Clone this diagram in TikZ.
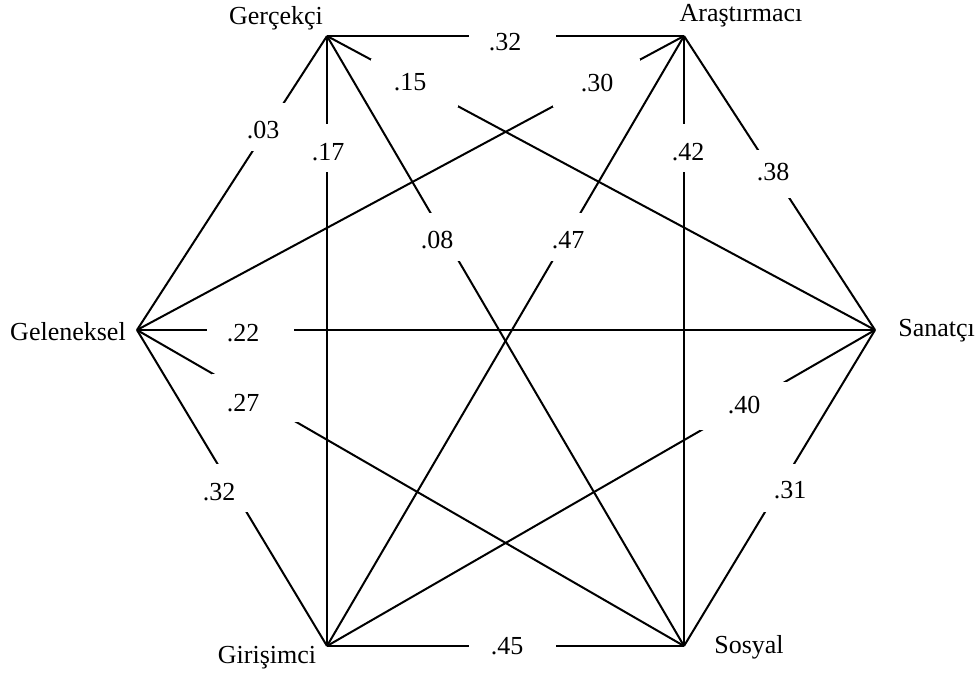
\documentclass[tikz,border=0pt]{standalone}
\usepackage{fontspec}
\setmainfont{Liberation Serif}
\usepackage{tikz}
\usetikzlibrary{positioning}

\begin{document}
\begin{tikzpicture}[x=0.5pt, y=-0.5pt, font=\fontsize{13}{15}\selectfont,
    edge/.style={line width=1pt},
    gap/.style={fill=white, inner sep=0pt, minimum width=43.5pt, minimum height=24pt},
    type/.style={inner sep=0pt}]
  \useasboundingbox (0,0) rectangle (979,678);
  % the six types
  \coordinate (ger) at (327,36);
  \coordinate (ara) at (684,36);
  \coordinate (san) at (875,330);
  \coordinate (sos) at (684,646);
  \coordinate (gir) at (327,646);
  \coordinate (gel) at (137,330);
  \node[type] (gerlab) at (276,18) {Gerçekçi};
  \node[type] (aralab) at (741,16) {Araştırmacı};
  \node[type, anchor=west] (sanlab) at (898,331) {Sanatçı};
  \node[type] (soslab) at (749,647) {Sosyal};
  \node[type] (girlab) at (267,658) {Girişimci};
  \node[type] (gellab) at (68,332) {Geleneksel};
  % lines, then white gaps
  \foreach \a/\b/\t in {ger/ara/0.52, ger/san/0.16, ara/gel/0.16, ger/gel/0.31,
      ger/gir/0.184, ger/sos/0.33, ara/gir/0.33, ara/sos/0.184, ara/san/0.47,
      gel/san/0.154, gel/sos/0.216, gel/gir/0.5, san/gir/0.24, san/sos/0.5, gir/sos/0.52}
    \draw[edge] (\a) -- node[gap, pos=\t] (\a-\b) {} (\b);
  % correlations
  \foreach \x/\y/\v [count=\i] in {505/42/.32, 410/82/.15, 597/83/.30, 263/130/.03,
      328/152/.17, 437/240/.08, 568/240/.47, 688/152/.42, 773/172/.38, 243/333/.22,
      243/403/.27, 219/492/.32, 744/405/.40, 790/490/.31, 507/646/.45}
    \node (r\i) at (\x,\y) {\v};
\end{tikzpicture}
\end{document}
